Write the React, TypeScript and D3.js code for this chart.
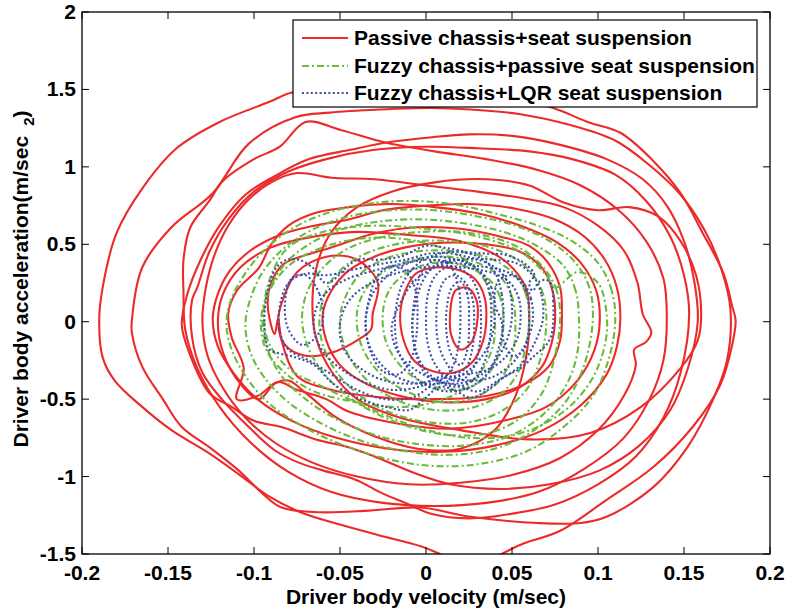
import React from "react";
import * as d3 from "d3";

type P = [number, number];

// ---------- Axis ticks ----------
const xTicks = [-0.2, -0.15, -0.1, -0.05, 0, 0.05, 0.1, 0.15, 0.2];
const xTickLabels = ["-0.2", "-0.15", "-0.1", "-0.05", "0", "0.05", "0.1", "0.15", "0.2"];
const yTicks = [-1.5, -1, -0.5, 0, 0.5, 1, 1.5, 2];
const yTickLabels = ["-1.5", "-1", "-0.5", "0", "0.5", "1", "1.5", "2"];

const seriesNames = [
  "Passive chassis+seat suspension",
  "Fuzzy chassis+passive seat suspension",
  "Fuzzy chassis+LQR seat suspension",
];

// ---------- Passive chassis + seat suspension (velocity, acceleration) ----------
const passiveLoop1: P[] = [
  [0.180, 0.01], [0.178, 0.10], [0.173, 0.31], [0.161, 0.57], [0.148, 0.83], [0.132, 1.04], [0.113, 1.22],
  [0.094, 1.29], [0.074, 1.38], [0.043, 1.46], [0.014, 1.50], [-0.015, 1.51], [-0.050, 1.51], [-0.078, 1.48],
  [-0.091, 1.42], [-0.120, 1.29], [-0.145, 1.12], [-0.165, 0.86], [-0.180, 0.57], [-0.188, 0.22], [-0.190, 0.01],
  [-0.188, -0.23], [-0.181, -0.38], [-0.165, -0.55], [-0.148, -0.70], [-0.126, -0.85], [-0.107, -1.00],
  [-0.091, -1.13], [-0.073, -1.23], [-0.050, -1.31], [-0.027, -1.38], [-0.003, -1.45], [0.015, -1.53],
  [0.026, -1.56], [0.038, -1.53], [0.055, -1.44], [0.078, -1.35], [0.105, -1.15], [0.132, -0.94],
  [0.155, -0.68], [0.171, -0.41], [0.178, -0.15],
];
const passiveLoop2: P[] = [
  [0.177, 0.08], [0.172, 0.33], [0.162, 0.59], [0.148, 0.82], [0.130, 1.01], [0.110, 1.17], [0.084, 1.27],
  [0.055, 1.34], [0.026, 1.37], [0.003, 1.38], [-0.027, 1.37], [-0.056, 1.35], [-0.076, 1.32], [-0.103, 1.15],
  [-0.124, 0.83], [-0.148, 0.61], [-0.165, 0.35], [-0.171, 0.01], [-0.171, -0.07], [-0.165, -0.29],
  [-0.153, -0.50], [-0.142, -0.68], [-0.126, -0.81], [-0.109, -0.96], [-0.095, -1.11], [-0.084, -1.20],
  [-0.062, -1.23], [-0.033, -1.22], [-0.003, -1.20], [0.026, -1.26], [0.065, -1.30], [0.090, -1.30],
  [0.105, -1.26], [0.132, -1.07], [0.152, -0.81], [0.167, -0.50], [0.175, -0.25],
];
const passiveLoop3: P[] = [
  [0.158, 0.00], [0.156, 0.26], [0.150, 0.52], [0.140, 0.75], [0.126, 0.92], [0.105, 1.05], [0.075, 1.15],
  [0.050, 1.20], [0.025, 1.21], [0.002, 1.19], [-0.021, 1.16], [-0.044, 1.11], [-0.068, 1.05], [-0.088, 0.94],
  [-0.105, 0.82], [-0.120, 0.62], [-0.131, 0.40], [-0.139, 0.17], [-0.142, -0.02], [-0.138, -0.19],
  [-0.126, -0.46], [-0.113, -0.55], [-0.100, -0.64], [-0.084, -0.68], [-0.064, -0.76], [-0.045, -0.81],
  [-0.030, -0.87], [-0.006, -0.98], [0.014, -1.05], [0.043, -1.08], [0.072, -1.05], [0.101, -0.96],
  [0.124, -0.80], [0.142, -0.57], [0.152, -0.31],
];
const passiveLoop4: P[] = [
  [0.153, 0.05], [0.150, 0.30], [0.142, 0.55], [0.128, 0.78], [0.110, 0.95], [0.085, 1.05], [0.060, 1.10],
  [0.030, 1.12], [0.000, 1.13], [-0.030, 1.11], [-0.058, 1.05], [-0.080, 0.97], [-0.100, 0.84], [-0.115, 0.66],
  [-0.126, 0.45], [-0.133, 0.22], [-0.136, 0.14], [-0.136, -0.10], [-0.130, -0.33], [-0.118, -0.51],
  [-0.103, -0.68], [-0.088, -0.83], [-0.074, -0.91], [-0.060, -0.96], [-0.041, -1.02], [-0.025, -1.11],
  [-0.012, -1.17], [0.003, -1.24], [0.025, -1.27], [0.050, -1.24], [0.075, -1.18], [0.100, -1.05],
  [0.122, -0.87], [0.138, -0.62], [0.148, -0.33],
];
const passiveLoop5: P[] = [
  [0.140, 0.02], [0.138, 0.28], [0.128, 0.52], [0.112, 0.72], [0.090, 0.88], [0.065, 0.98], [0.035, 1.05],
  [0.005, 1.10], [-0.025, 1.16], [-0.050, 1.24], [-0.070, 1.29], [-0.085, 1.13], [-0.100, 1.05], [-0.118, 0.91],
  [-0.126, 0.78], [-0.137, 0.61], [-0.141, 0.40], [-0.141, 0.19], [-0.140, -0.05], [-0.133, -0.30],
  [-0.120, -0.55], [-0.102, -0.78], [-0.080, -0.97], [-0.055, -1.10], [-0.025, -1.17], [0.005, -1.19],
  [0.035, -1.17], [0.065, -1.10], [0.092, -0.95], [0.115, -0.75], [0.130, -0.50], [0.138, -0.25],
];
const passiveLoop6: P[] = [
  [0.126, 0.05], [0.123, 0.25], [0.115, 0.46], [0.100, 0.62], [0.080, 0.74], [0.055, 0.80], [0.030, 0.84],
  [0.000, 0.88], [-0.030, 0.92], [-0.055, 0.93], [-0.075, 0.96], [-0.090, 0.90], [-0.104, 0.78], [-0.115, 0.62],
  [-0.123, 0.43], [-0.128, 0.22], [-0.130, 0.00], [-0.127, -0.22], [-0.118, -0.43], [-0.105, -0.62],
  [-0.088, -0.78], [-0.066, -0.91], [-0.040, -1.00], [-0.010, -1.05], [0.020, -1.04], [0.050, -0.99],
  [0.078, -0.88], [0.100, -0.70], [0.115, -0.48], [0.122, -0.28], [0.121, -0.18], [0.128, -0.13],
  [0.131, -0.07],
];
const passiveLoop7: P[] = [
  [0.113, 0.02], [0.111, 0.22], [0.104, 0.40], [0.092, 0.55], [0.075, 0.66], [0.052, 0.73], [0.025, 0.76],
  [0.000, 0.75], [-0.025, 0.72], [-0.045, 0.66], [-0.065, 0.62], [-0.085, 0.56], [-0.102, 0.46], [-0.114, 0.33],
  [-0.121, 0.18], [-0.124, 0.02], [-0.121, -0.16], [-0.112, -0.33], [-0.098, -0.50], [-0.078, -0.64],
  [-0.052, -0.75], [-0.022, -0.82], [0.010, -0.84], [0.040, -0.80], [0.068, -0.70], [0.090, -0.54],
  [0.105, -0.34], [0.111, -0.16],
];
const passiveLoop8: P[] = [
  [0.101, 0.00], [0.099, 0.20], [0.090, 0.38], [0.075, 0.52], [0.055, 0.62], [0.030, 0.70], [0.005, 0.74],
  [-0.020, 0.76], [-0.045, 0.74], [-0.065, 0.70], [-0.080, 0.62], [-0.090, 0.50], [-0.097, 0.35],
  [-0.110, 0.20], [-0.115, 0.05], [-0.113, -0.10], [-0.106, -0.30], [-0.110, -0.50], [-0.098, -0.48],
  [-0.086, -0.39], [-0.075, -0.44], [-0.058, -0.50], [-0.045, -0.58], [-0.015, -0.66], [0.015, -0.69],
  [0.045, -0.64], [0.070, -0.55], [0.088, -0.38], [0.098, -0.18],
];
const passiveLoop9: P[] = [
  [0.079, 0.05], [0.078, 0.22], [0.071, 0.38], [0.060, 0.49], [0.043, 0.55], [0.020, 0.60], [-0.005, 0.61],
  [-0.030, 0.57], [-0.055, 0.48], [-0.070, 0.43], [-0.083, 0.37], [-0.090, 0.25], [-0.092, 0.10],
  [-0.088, -0.08], [-0.086, 0.02], [-0.084, -0.12], [-0.075, -0.35], [-0.055, -0.44], [-0.025, -0.49],
  [0.005, -0.50], [0.035, -0.48], [0.058, -0.40], [0.072, -0.28], [0.078, -0.12],
];
const passiveLoop10: P[] = [
  [0.075, 0.00], [0.074, 0.18], [0.068, 0.34], [0.055, 0.45], [0.035, 0.50], [0.010, 0.51], [-0.012, 0.48],
  [-0.030, 0.42], [-0.045, 0.33], [-0.055, 0.20], [-0.060, 0.05], [-0.058, -0.12], [-0.050, -0.28],
  [-0.035, -0.40], [-0.015, -0.48], [0.010, -0.52], [0.035, -0.50], [0.055, -0.42], [0.068, -0.28], [0.073, -0.14],
];
const passiveLoop11: P[] = [
  [0.035, 0.00], [0.034, 0.16], [0.028, 0.28], [0.017, 0.34], [0.005, 0.35], [-0.006, 0.31], [-0.012, 0.20],
  [-0.015, 0.05], [-0.013, -0.12], [-0.007, -0.25], [0.004, -0.32], [0.016, -0.33], [0.027, -0.26], [0.033, -0.13],
];
const passiveLoop12: P[] = [
  [0.030, 0.02], [0.029, 0.15], [0.024, 0.22], [0.017, 0.20], [0.014, 0.05], [0.015, -0.10], [0.020, -0.18],
  [0.026, -0.14],
];
const passiveLoop13: P[] = [
  [0.060, 0.00], [0.058, 0.22], [0.045, 0.40], [0.020, 0.52], [-0.010, 0.56], [-0.040, 0.58], [-0.065, 0.55],
  [-0.090, 0.48], [-0.108, 0.35], [-0.118, 0.18], [-0.121, 0.00], [-0.118, -0.20], [-0.108, -0.40],
  [-0.097, -0.50], [-0.088, -0.40], [-0.080, -0.38], [-0.070, -0.46], [-0.052, -0.62], [-0.030, -0.74],
  [-0.005, -0.82], [0.020, -0.82], [0.040, -0.70], [0.052, -0.48], [0.058, -0.24],
];
const passiveLoop14: P[] = [
  [0.160, 0.05], [0.157, 0.30], [0.148, 0.52], [0.135, 0.68], [0.118, 0.74], [0.100, 0.72], [0.080, 0.77],
  [0.060, 0.88], [0.035, 0.92], [0.005, 0.90], [-0.020, 0.84], [-0.040, 0.74], [-0.055, 0.58], [-0.063, 0.38],
  [-0.066, 0.15], [-0.064, -0.10], [-0.055, -0.32], [-0.040, -0.50], [-0.015, -0.62], [0.020, -0.70],
  [0.060, -0.76], [0.095, -0.72], [0.125, -0.55], [0.148, -0.30], [0.158, -0.12],
];
const passiveLoop15: P[] = [
  [-0.031, 0.05], [-0.028, 0.25], [-0.040, 0.40], [-0.058, 0.42], [-0.075, 0.32], [-0.083, 0.15],
  [-0.086, 0.00], [-0.082, -0.15], [-0.070, -0.22], [-0.055, -0.20], [-0.040, -0.12], [-0.032, -0.05],
];

// ---------- Fuzzy chassis + passive seat suspension ----------
const fuzzyLoop1: P[] = [
  [0.110, 0.00], [0.108, 0.20], [0.100, 0.38], [0.085, 0.52], [0.065, 0.62], [0.040, 0.70], [0.015, 0.76],
  [-0.010, 0.78], [-0.035, 0.76], [-0.058, 0.70], [-0.078, 0.60], [-0.095, 0.45], [-0.107, 0.28],
  [-0.114, 0.12], [-0.116, -0.02], [-0.113, -0.18], [-0.105, -0.35], [-0.092, -0.52], [-0.074, -0.66],
  [-0.052, -0.78], [-0.025, -0.88], [0.002, -0.93], [0.030, -0.92], [0.058, -0.84], [0.080, -0.68],
  [0.097, -0.48], [0.106, -0.25],
];
const fuzzyLoop2: P[] = [
  [0.097, 0.02], [0.095, 0.22], [0.087, 0.38], [0.072, 0.52], [0.052, 0.62], [0.030, 0.68], [0.005, 0.72],
  [-0.020, 0.72], [-0.045, 0.68], [-0.065, 0.60], [-0.082, 0.48], [-0.095, 0.32], [-0.102, 0.15],
  [-0.105, -0.02], [-0.102, -0.20], [-0.094, -0.36], [-0.080, -0.52], [-0.062, -0.65], [-0.040, -0.76],
  [-0.015, -0.83], [0.012, -0.86], [0.040, -0.82], [0.063, -0.70], [0.081, -0.52], [0.092, -0.28],
];
const fuzzyLoop3: P[] = [
  [0.089, 0.00], [0.087, 0.20], [0.080, 0.36], [0.066, 0.48], [0.048, 0.57], [0.025, 0.63], [0.000, 0.66],
  [-0.025, 0.65], [-0.048, 0.60], [-0.068, 0.50], [-0.083, 0.36], [-0.092, 0.18], [-0.095, 0.00],
  [-0.092, -0.18], [-0.084, -0.35], [-0.070, -0.50], [-0.052, -0.63], [-0.030, -0.73], [-0.005, -0.79],
  [0.022, -0.80], [0.048, -0.74], [0.068, -0.60], [0.082, -0.40], [0.088, -0.20],
];
const fuzzyLoop4: P[] = [
  [0.078, 0.02], [0.076, 0.20], [0.069, 0.34], [0.057, 0.46], [0.040, 0.54], [0.020, 0.58], [-0.002, 0.58],
  [-0.024, 0.55], [-0.044, 0.48], [-0.058, 0.37], [-0.068, 0.22], [-0.072, 0.05], [-0.070, -0.12],
  [-0.063, -0.28], [-0.050, -0.44], [-0.033, -0.57], [-0.012, -0.67], [0.012, -0.73], [0.036, -0.72],
  [0.055, -0.62], [0.068, -0.45], [0.075, -0.22],
];
const fuzzyLoop5: P[] = [
  [0.070, 0.00], [0.068, 0.18], [0.061, 0.32], [0.050, 0.42], [0.034, 0.49], [0.015, 0.52], [-0.005, 0.52],
  [-0.025, 0.48], [-0.042, 0.40], [-0.054, 0.28], [-0.060, 0.14], [-0.062, -0.02], [-0.059, -0.18],
  [-0.051, -0.34], [-0.038, -0.48], [-0.020, -0.59], [0.002, -0.65], [0.025, -0.65], [0.045, -0.57],
  [0.059, -0.43], [0.067, -0.22],
];
const fuzzyLoop6: P[] = [
  [0.060, 0.02], [0.058, 0.18], [0.052, 0.30], [0.041, 0.39], [0.027, 0.44], [0.010, 0.46], [-0.008, 0.45],
  [-0.025, 0.40], [-0.038, 0.31], [-0.046, 0.18], [-0.050, 0.03], [-0.048, -0.14], [-0.041, -0.29],
  [-0.030, -0.42], [-0.014, -0.52], [0.005, -0.57], [0.025, -0.56], [0.042, -0.48], [0.053, -0.34], [0.058, -0.16],
];
const fuzzyLoop7: P[] = [
  [0.052, 0.00], [0.050, 0.16], [0.044, 0.28], [0.034, 0.36], [0.020, 0.41], [0.005, 0.42], [-0.011, 0.39],
  [-0.025, 0.32], [-0.035, 0.21], [-0.040, 0.07], [-0.039, -0.10], [-0.033, -0.25], [-0.022, -0.38],
  [-0.007, -0.47], [0.010, -0.52], [0.028, -0.49], [0.042, -0.39], [0.050, -0.22],
];
const fuzzyLoop8: P[] = [
  [0.045, 0.02], [0.043, 0.16], [0.037, 0.27], [0.027, 0.34], [0.014, 0.38], [0.000, 0.37], [-0.012, 0.31],
  [-0.021, 0.21], [-0.025, 0.07], [-0.024, -0.10], [-0.018, -0.24], [-0.007, -0.36], [0.008, -0.43],
  [0.024, -0.43], [0.036, -0.34], [0.043, -0.18],
];
const fuzzyLoop9: P[] = [
  [0.105, 0.05], [0.100, 0.25], [0.088, 0.32], [0.075, 0.22], [0.070, 0.30], [0.055, 0.45], [0.030, 0.55],
  [0.000, 0.60], [-0.030, 0.62], [-0.060, 0.58], [-0.080, 0.48], [-0.090, 0.30], [-0.094, 0.10],
  [-0.092, -0.12], [-0.080, -0.30], [-0.060, -0.42], [-0.035, -0.55], [-0.005, -0.68], [0.025, -0.75],
  [0.055, -0.72], [0.080, -0.58], [0.096, -0.38], [0.104, -0.15],
];
const fuzzyLoop10: P[] = [
  [0.040, 0.00], [0.035, 0.25], [0.020, 0.42], [-0.005, 0.52], [-0.035, 0.54], [-0.060, 0.48], [-0.080, 0.36],
  [-0.092, 0.18], [-0.096, 0.00], [-0.093, -0.18], [-0.082, -0.33], [-0.065, -0.45], [-0.040, -0.52],
  [-0.012, -0.55], [0.015, -0.48], [0.032, -0.32], [0.039, -0.15],
];

// ---------- Fuzzy chassis + LQR seat suspension ----------
const lqrLoop1: P[] = [
  [0.074, 0.01], [0.074, 0.13], [0.073, 0.24], [0.070, 0.27], [0.066, 0.26], [0.062, 0.20], [0.060, 0.25],
  [0.063, 0.30], [0.058, 0.37], [0.047, 0.43], [0.035, 0.44], [0.024, 0.45], [0.010, 0.48], [0.000, 0.49],
  [-0.015, 0.42], [-0.028, 0.40], [-0.040, 0.40], [-0.058, 0.25], [-0.066, 0.35], [-0.074, 0.40],
  [-0.081, 0.40], [-0.087, 0.35], [-0.092, 0.20], [-0.094, 0.03], [-0.093, -0.13], [-0.091, -0.18],
  [-0.076, -0.23], [-0.065, -0.28], [-0.054, -0.40], [-0.038, -0.50], [-0.023, -0.55], [-0.010, -0.57],
  [-0.002, -0.51], [0.008, -0.42], [0.016, -0.44], [0.026, -0.49], [0.036, -0.44], [0.045, -0.36],
  [0.055, -0.30], [0.062, -0.23], [0.065, -0.20], [0.070, -0.15], [0.073, -0.08],
];
const lqrLoop2: P[] = [
  [0.068, 0.02], [0.067, 0.18], [0.062, 0.30], [0.052, 0.38], [0.040, 0.40], [0.028, 0.41], [0.015, 0.44],
  [0.002, 0.44], [-0.012, 0.40], [-0.028, 0.37], [-0.045, 0.33], [-0.058, 0.30], [-0.070, 0.31],
  [-0.080, 0.25], [-0.085, 0.10], [-0.085, -0.06], [-0.080, -0.18], [-0.068, -0.25], [-0.055, -0.34],
  [-0.040, -0.44], [-0.024, -0.50], [-0.008, -0.49], [0.006, -0.40], [0.018, -0.41], [0.030, -0.45],
  [0.042, -0.38], [0.055, -0.28], [0.063, -0.14],
];
const lqrLoop3: P[] = [
  [0.062, 0.00], [0.061, 0.15], [0.056, 0.26], [0.045, 0.33], [0.030, 0.36], [0.016, 0.38], [0.000, 0.40],
  [-0.015, 0.37], [-0.030, 0.33], [-0.045, 0.28], [-0.057, 0.20], [-0.064, 0.08], [-0.065, -0.06],
  [-0.060, -0.19], [-0.050, -0.30], [-0.036, -0.39], [-0.020, -0.44], [-0.004, -0.42], [0.010, -0.35],
  [0.024, -0.38], [0.038, -0.36], [0.050, -0.27], [0.058, -0.14],
];
const lqrLoop4: P[] = [
  [0.060, 0.05], [0.058, 0.20], [0.050, 0.30], [0.042, 0.26], [0.040, 0.12], [0.044, 0.00], [0.045, -0.12],
  [0.050, -0.22], [0.057, -0.18],
];
const lqrLoop5: P[] = [
  [0.055, 0.02], [0.054, 0.15], [0.049, 0.25], [0.040, 0.31], [0.028, 0.34], [0.013, 0.36], [-0.002, 0.35],
  [-0.018, 0.31], [-0.032, 0.25], [-0.043, 0.16], [-0.049, 0.04], [-0.050, -0.09], [-0.046, -0.21],
  [-0.037, -0.31], [-0.024, -0.38], [-0.008, -0.40], [0.008, -0.37], [0.022, -0.34], [0.036, -0.31],
  [0.047, -0.22], [0.053, -0.11],
];
const lqrLoop6: P[] = [
  [-0.060, 0.00], [-0.062, 0.18], [-0.070, 0.30], [-0.078, 0.28], [-0.082, 0.12], [-0.080, -0.05],
  [-0.072, -0.15], [-0.064, -0.10],
];
const lqrLoop7: P[] = [
  [0.045, 0.00], [0.044, 0.18], [0.040, 0.32], [0.032, 0.41], [0.020, 0.45], [0.008, 0.44], [-0.004, 0.38],
  [-0.013, 0.26], [-0.017, 0.12], [-0.018, -0.04], [-0.016, -0.19], [-0.010, -0.31], [0.000, -0.41],
  [0.013, -0.45], [0.026, -0.42], [0.036, -0.33], [0.042, -0.18],
];
const lqrLoop8: P[] = [
  [0.040, 0.05], [0.038, 0.22], [0.030, 0.34], [0.018, 0.40], [0.004, 0.42], [-0.010, 0.38], [-0.022, 0.30],
  [-0.031, 0.18], [-0.035, 0.03], [-0.034, -0.12], [-0.028, -0.25], [-0.018, -0.35], [-0.004, -0.40],
  [0.011, -0.39], [0.024, -0.32], [0.034, -0.20], [0.039, -0.06],
];
const lqrLoop9: P[] = [
  [0.038, 0.02], [0.037, 0.18], [0.033, 0.30], [0.025, 0.38], [0.015, 0.40], [0.005, 0.36], [-0.002, 0.26],
  [-0.006, 0.12], [-0.008, -0.03], [-0.006, -0.18], [-0.001, -0.30], [0.008, -0.39], [0.018, -0.42],
  [0.028, -0.37], [0.034, -0.26], [0.037, -0.12],
];
const lqrLoop10: P[] = [
  [0.032, 0.00], [0.031, 0.15], [0.027, 0.27], [0.020, 0.34], [0.012, 0.35], [0.005, 0.29], [0.001, 0.17],
  [0.000, 0.02], [0.001, -0.14], [0.005, -0.27], [0.012, -0.36], [0.020, -0.38], [0.027, -0.31], [0.031, -0.16],
];
const lqrLoop11: P[] = [
  [0.028, 0.02], [0.027, 0.15], [0.023, 0.25], [0.017, 0.30], [0.011, 0.27], [0.007, 0.16], [0.006, 0.02],
  [0.007, -0.13], [0.011, -0.25], [0.017, -0.33], [0.023, -0.30], [0.027, -0.17],
];
const lqrLoop12: P[] = [
  [0.025, 0.00], [0.024, 0.18], [0.020, 0.26], [0.015, 0.22], [0.012, 0.08], [0.012, -0.08], [0.015, -0.22],
  [0.020, -0.28], [0.024, -0.18],
];
const lqrLoop13: P[] = [
  [-0.005, 0.00], [-0.006, 0.20], [-0.012, 0.33], [-0.020, 0.36], [-0.028, 0.30], [-0.033, 0.15],
  [-0.035, -0.02], [-0.032, -0.20], [-0.025, -0.32], [-0.016, -0.34], [-0.009, -0.25], [-0.006, -0.12],
];
const lqrLoop14: P[] = [
  [0.020, 0.00], [0.019, 0.22], [0.014, 0.36], [0.006, 0.40], [-0.002, 0.33], [-0.006, 0.18], [-0.008, 0.00],
  [-0.006, -0.20], [0.000, -0.34], [0.008, -0.38], [0.015, -0.30], [0.019, -0.15],
];
const lqrLoop15: P[] = [
  [0.050, 0.10], [0.045, 0.30], [0.030, 0.40], [0.012, 0.38], [-0.005, 0.28], [-0.015, 0.12], [-0.020, -0.05],
  [-0.015, -0.22], [0.000, -0.35], [0.018, -0.40], [0.035, -0.32], [0.047, -0.12],
];

const passiveSeries: P[][] = [
  passiveLoop1, passiveLoop2, passiveLoop3, passiveLoop4, passiveLoop5, passiveLoop6, passiveLoop7,
  passiveLoop8, passiveLoop9, passiveLoop10, passiveLoop11, passiveLoop12, passiveLoop13, passiveLoop14,
  passiveLoop15,
];
const fuzzySeries: P[][] = [
  fuzzyLoop1, fuzzyLoop2, fuzzyLoop3, fuzzyLoop4, fuzzyLoop5, fuzzyLoop6, fuzzyLoop7, fuzzyLoop8,
  fuzzyLoop9, fuzzyLoop10,
];
const lqrSeries: P[][] = [
  lqrLoop1, lqrLoop2, lqrLoop3, lqrLoop4, lqrLoop5, lqrLoop6, lqrLoop7, lqrLoop8, lqrLoop9,
  lqrLoop10, lqrLoop11, lqrLoop12, lqrLoop13, lqrLoop14, lqrLoop15,
];

const W = 787;
const H = 611;
const M = { left: 82, right: 770, top: 12, bottom: 554 };
const FONT = "'Liberation Sans', Arial, Helvetica, sans-serif";
const RED = "#ec2a2a";
const GREEN = "#6abb3c";
const BLUE = "#3a4ea6";
const GREEN_DASH = "7,3,2,3";
const BLUE_DASH = "2,2.4";

export default function App() {
  const x = d3.scaleLinear().domain([-0.2, 0.2]).range([M.left, M.right]);
  const y = d3.scaleLinear().domain([-1.5, 2]).range([M.bottom, M.top]);
  const line = d3
    .line<P>()
    .x((d) => x(d[0]))
    .y((d) => y(d[1]))
    .curve(d3.curveCatmullRomClosed.alpha(0.5));

  const tickLen = 7;
  const fs = 21;

  const legendRows = [
    { name: seriesNames[0], color: RED, dash: undefined as string | undefined },
    { name: seriesNames[1], color: GREEN, dash: GREEN_DASH },
    { name: seriesNames[2], color: BLUE, dash: BLUE_DASH },
  ];
  const legendY = [38, 66, 93];

  return (
    <svg
      width={W}
      height={H}
      style={{ position: "absolute", left: 0, top: 0, background: "#fff" }}
      fontFamily={FONT}
    >
      <defs>
        <clipPath id="plotClip">
          <rect x={M.left} y={M.top} width={M.right - M.left} height={M.bottom - M.top} />
        </clipPath>
      </defs>
      <rect x={0} y={0} width={W} height={H} fill="#fff" />

      <g clipPath="url(#plotClip)" fill="none" strokeLinejoin="round">
        {passiveSeries.map((l, i) => (
          <path key={"r" + i} d={line(l) || ""} stroke={RED} strokeWidth={2.1} />
        ))}
        {fuzzySeries.map((l, i) => (
          <path key={"g" + i} d={line(l) || ""} stroke={GREEN} strokeWidth={2.1} strokeDasharray={GREEN_DASH} />
        ))}
        {lqrSeries.map((l, i) => (
          <path key={"b" + i} d={line(l) || ""} stroke={BLUE} strokeWidth={2.1} strokeDasharray={BLUE_DASH} />
        ))}
      </g>

      {/* axes box */}
      <rect
        x={M.left}
        y={M.top}
        width={M.right - M.left}
        height={M.bottom - M.top}
        fill="none"
        stroke="#000"
        strokeWidth={1.3}
      />
      {xTicks.map((t, i) => (
        <g key={"xt" + i}>
          <line x1={x(t)} x2={x(t)} y1={M.bottom} y2={M.bottom - tickLen} stroke="#000" strokeWidth={1} />
          <line x1={x(t)} x2={x(t)} y1={M.top} y2={M.top + tickLen} stroke="#000" strokeWidth={1} />
          <text x={x(t)} y={M.bottom + 26} textAnchor="middle" fontSize={fs} fontWeight="bold" fill="#000">
            {xTickLabels[i]}
          </text>
        </g>
      ))}
      {yTicks.map((t, i) => (
        <g key={"yt" + i}>
          <line x1={M.left} x2={M.left + tickLen} y1={y(t)} y2={y(t)} stroke="#000" strokeWidth={1} />
          <line x1={M.right} x2={M.right - tickLen} y1={y(t)} y2={y(t)} stroke="#000" strokeWidth={1} />
          <text x={M.left - 6} y={y(t) + 7} textAnchor="end" fontSize={fs} fontWeight="bold" fill="#000">
            {yTickLabels[i]}
          </text>
        </g>
      ))}

      {/* axis titles */}
      <text x={(M.left + M.right) / 2} y={604} textAnchor="middle" fontSize={fs} fontWeight="bold" fill="#000">
        Driver body velocity (m/sec)
      </text>
      <text
        transform={`translate(28, ${(M.top + M.bottom) / 2 - 4}) rotate(-90)`}
        textAnchor="middle"
        fontSize={fs}
        fontWeight="bold"
        fill="#000"
      >
        Driver body acceleration(m/sec
        <tspan fontSize={15} dx={10} dy={6}>2</tspan>
        <tspan dy={-6}>)</tspan>
      </text>

      {/* legend */}
      <g>
        <rect x={293} y={20} width={464} height={87} fill="#fff" stroke="#000" strokeWidth={1.2} />
        {legendRows.map((r, i) => (
          <g key={"lg" + i}>
            <line
              x1={302}
              x2={348}
              y1={legendY[i]}
              y2={legendY[i]}
              stroke={r.color}
              strokeWidth={2.1}
              strokeDasharray={r.dash}
            />
            <text x={354} y={legendY[i] + 7} fontSize={fs} fontWeight="bold" fill="#000">
              {r.name}
            </text>
          </g>
        ))}
      </g>
    </svg>
  );
}
